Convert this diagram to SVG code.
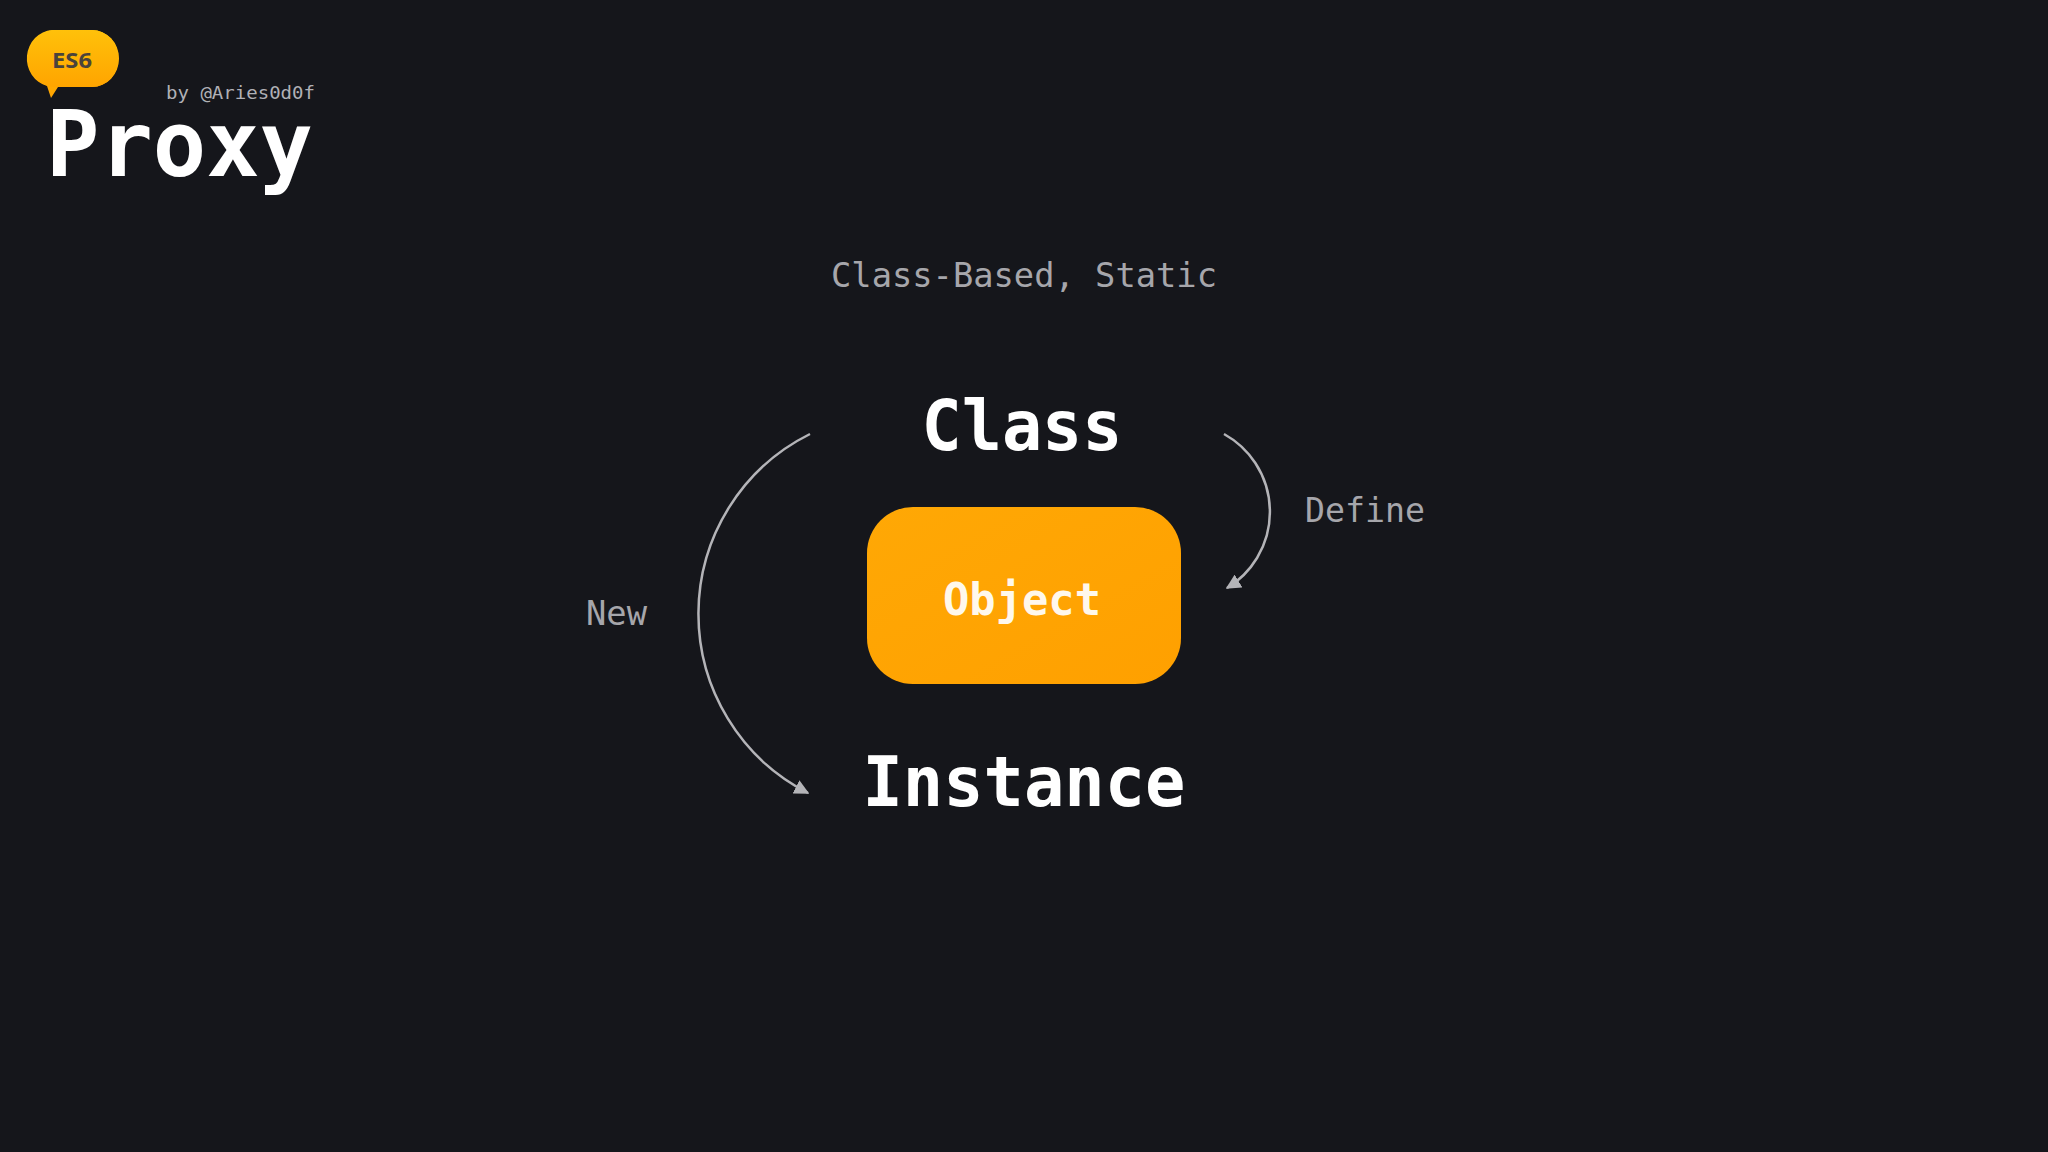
<svg xmlns="http://www.w3.org/2000/svg" width="2048" height="1152" viewBox="0 0 2048 1152">
  <defs>
    <linearGradient id="bubbleGrad" x1="0" y1="0" x2="0" y2="1">
      <stop offset="0" stop-color="#FFC10A"/>
      <stop offset="1" stop-color="#FFA400"/>
    </linearGradient>
    <linearGradient id="objGrad" x1="0" y1="0" x2="1" y2="1">
      <stop offset="0" stop-color="#FFA805"/>
      <stop offset="1" stop-color="#FFA000"/>
    </linearGradient>
    <marker id="arrow" viewBox="0 0 10 10" refX="9" refY="5" markerWidth="6" markerHeight="6" markerUnits="strokeWidth" orient="auto">
      <path d="M0,0 L10,5 L0,10 Z" fill="#b4b4b8"/>
    </marker>
    <style>
      .mono { font-family: "DejaVu Sans Mono", "Liberation Mono", monospace; }
      .title { font-weight: bold; fill: #ffffff; }
      .label { fill: #a6a6ab; font-size: 33px; }
      .node { font-weight: bold; fill: #ffffff; font-size: 70px; }
      .arc { fill: none; stroke: #b4b4b8; stroke-width: 2.5; }
    </style>
  </defs>
  <rect width="2048" height="1152" fill="#15161b"/>

  <g id="badge">
    <path d="M52,30 H92 A27,28.5 0 0 1 92,87 H58 L51,98 L47,86 A27,28.5 0 0 1 52,30 Z" fill="url(#bubbleGrad)"/>
    <path d="M55,30 H92 A26.5,28.5 0 0 1 92,87 H55 A26.5,28.5 0 0 1 55,30 Z" fill="url(#bubbleGrad)"/>
    <text x="72" y="68" text-anchor="middle" font-family="'Noto Sans', 'Open Sans', sans-serif" font-weight="bold" font-size="22" fill="#4a433c" textLength="40" lengthAdjust="spacingAndGlyphs">ES6</text>
  </g>

  <g id="header">
    <text class="mono" x="166" y="99" font-size="18" fill="#b0b0b5" textLength="149" lengthAdjust="spacingAndGlyphs">by @Aries0d0f</text>
    <text class="mono title" x="46" y="176" font-size="90" textLength="267" lengthAdjust="spacingAndGlyphs">Proxy</text>
  </g>

  <g id="subtitle">
    <text class="mono label" x="831" y="287" textLength="386" lengthAdjust="spacingAndGlyphs">Class-Based, Static</text>
  </g>

  <g id="connectors">
    <path class="arc" d="M810,434 A201,201 0 0 0 808,793" marker-end="url(#arrow)"/>
    <path class="arc" d="M1224,434 A89,89 0 0 1 1227,588" marker-end="url(#arrow)"/>
  </g>

  <g id="node-class">
    <text class="mono node" x="1022" y="450" text-anchor="middle" textLength="201" lengthAdjust="spacingAndGlyphs">Class</text>
  </g>

  <g id="node-object">
    <rect x="867" y="507" width="314" height="177" rx="46" ry="46" fill="url(#objGrad)"/>
    <text class="mono" x="1022" y="615" text-anchor="middle" font-size="44" font-weight="bold" fill="#fff8ec" textLength="158" lengthAdjust="spacingAndGlyphs">Object</text>
  </g>

  <g id="node-instance">
    <text class="mono node" x="1024" y="806" text-anchor="middle" textLength="323" lengthAdjust="spacingAndGlyphs">Instance</text>
  </g>

  <g id="edge-labels">
    <text class="mono label" x="1305" y="522" textLength="120" lengthAdjust="spacingAndGlyphs">Define</text>
    <text class="mono label" x="586" y="625" textLength="61" lengthAdjust="spacingAndGlyphs">New</text>
  </g>
</svg>
